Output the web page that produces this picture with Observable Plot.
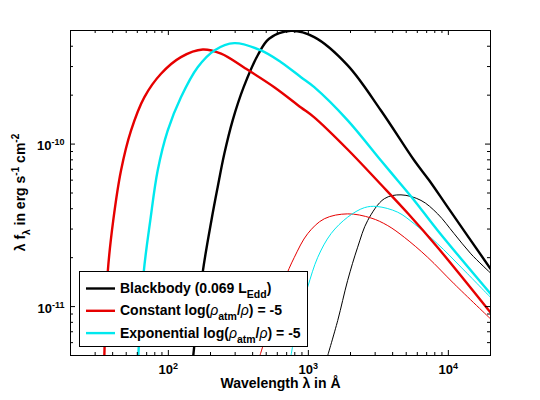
<!DOCTYPE html>
<html>
<head>
<meta charset="utf-8">
<script src="https://cdn.jsdelivr.net/npm/d3@7"></script>
<script src="https://cdn.jsdelivr.net/npm/@observablehq/plot@0.6"></script>
<style>
html, body { margin: 0; padding: 0; background: #fff; }
</style>
</head>
<body>
<div id="chart"></div>
<script>
// ---- Data (wavelength in Å, λ f_λ in erg s^-1 cm^-2) ----
// Thick curves
const bbWave     = [150.7, 176, 203, 225, 251, 288, 345, 435, 524, 750, 1102, 1909, 3300, 5710, 7310, 9890, 20000];
const bbFlux     = [5.0e-12, 1.63e-11, 3.39e-11, 5.43e-11, 8.71e-11, 1.40e-10, 2.24e-10, 3.52e-10, 4.45e-10, 4.97e-10, 4.55e-10, 3.05e-10, 1.61e-10, 7.92e-11, 5.97e-11, 4.09e-11, 1.71e-11];
const constWave  = [34.9, 36.9, 40.4, 45.9, 54.1, 67.3, 88.6, 123, 176, 238, 349, 571, 886, 1102, 1909, 3300, 5150, 8390, 20000];
const constFlux  = [5.0e-12, 1.63e-11, 3.39e-11, 6.88e-11, 1.21e-10, 1.94e-10, 2.71e-10, 3.43e-10, 3.82e-10, 3.60e-10, 2.95e-10, 2.24e-10, 1.68e-10, 1.46e-10, 9.26e-11, 5.64e-11, 3.74e-11, 2.31e-11, 9.2e-12];
const expWave    = [61.0, 66.7, 74.3, 83.9, 98.9, 123, 162, 213, 296, 459, 638, 886, 1102, 1909, 3300, 4345, 5710, 8390, 20000];
const expFlux    = [5.0e-12, 1.63e-11, 3.39e-11, 6.88e-11, 1.21e-10, 1.94e-10, 2.97e-10, 3.77e-10, 4.18e-10, 3.77e-10, 3.19e-10, 2.58e-10, 2.24e-10, 1.40e-10, 7.92e-11, 5.97e-11, 4.50e-11, 2.94e-11, 1.20e-11];
// Thin curves
const bbWave2    = [1375, 1621, 1909, 2250, 2655, 3487, 4590, 6380, 8390, 11000, 14500, 20000];
const bbFlux2    = [5.0e-12, 8.21e-12, 1.45e-11, 2.32e-11, 3.39e-11, 4.61e-11, 4.87e-11, 4.50e-11, 3.72e-11, 2.81e-11, 2.11e-11, 1.61e-11];
const constWave2 = [451, 541, 673, 794, 989, 1300, 1909, 2800, 3690, 4845, 7120, 11000, 20000];
const constFlux2 = [5.0e-12, 8.21e-12, 1.45e-11, 2.01e-11, 2.81e-11, 3.47e-11, 3.72e-11, 3.51e-11, 3.15e-11, 2.67e-11, 2.01e-11, 1.38e-11, 8.41e-12];
const expWave2   = [752, 839, 989, 1167, 1452, 1909, 2510, 3093, 4345, 5710, 8390, 12300, 20000];
const expFlux2   = [5.0e-12, 8.21e-12, 1.32e-11, 2.01e-11, 2.81e-11, 3.55e-11, 4.06e-11, 4.13e-11, 3.81e-11, 3.23e-11, 2.43e-11, 1.75e-11, 1.14e-11];

// Axes
const xMajor = [100, 1000, 10000];
const xTickLabels = ["10^2", "10^3", "10^4"];
const xMinor = [30, 40, 50, 60, 70, 80, 90, 200, 300, 400, 500, 600, 700, 800, 900,
                2000, 3000, 4000, 5000, 6000, 7000, 8000, 9000];
const yMajor = [1e-11, 1e-10];
const yTickLabels = ["10^-11", "10^-10"];
const yMinor = [6e-12, 7e-12, 8e-12, 9e-12, 2e-11, 3e-11, 4e-11, 5e-11, 6e-11, 7e-11, 8e-11, 9e-11, 2e-10, 3e-10, 4e-10];
const xDomain = [20, 20000];
const yDomain = [5e-12, 5e-10];

const xTitle = "Wavelength λ in Å";
const legendNames = [
  [["Blackbody (0.069 L", "n"], ["Edd", "sub"], [")", "n"]],
  [["Constant log(", "n"], ["ρ", "rho"], ["atm", "sub"], ["/", "n"], ["ρ", "rho"], [") = -5", "n"]],
  [["Exponential log(", "n"], ["ρ", "rho"], ["atm", "sub"], ["/", "n"], ["ρ", "rho"], [") = -5", "n"]]
];
const yTitleParts = [["λ f", "n"], ["λ", "sub"], [" in erg s", "n"], ["-1", "sup"], [" cm", "n"], ["-2", "sup"]];

const toRows = (w, f) => w.map((x, i) => ({w: x, f: f[i]}));

const colBlack = "#000000", colRed = "#e60000", colCyan = "#00e8ee";
const W = 540, H = 400, mL = 70, mR = 50, mT = 30, mB = 45;
const pw = W - mL - mR, ph = H - mT - mB;
const fontFam = "'Liberation Sans', Arial, Helvetica, sans-serif";

const lineOpts = (stroke, sw) => ({x: "w", y: "f", stroke, strokeWidth: sw, curve: "catmull-rom", clip: true});

const plot = Plot.plot({
  width: W, height: H,
  marginLeft: mL, marginRight: mR, marginTop: mT, marginBottom: mB,
  style: {fontFamily: fontFam, background: "white", color: "black"},
  x: {type: "log", domain: xDomain, label: null, axis: null},
  y: {type: "log", domain: yDomain, label: null, axis: null},
  marks: [
    Plot.line(toRows(bbWave2, bbFlux2), lineOpts(colBlack, 1)),
    Plot.line(toRows(constWave2, constFlux2), lineOpts(colRed, 1)),
    Plot.line(toRows(expWave2, expFlux2), lineOpts(colCyan, 1)),
    Plot.line(toRows(bbWave, bbFlux), lineOpts(colBlack, 2.4)),
    Plot.line(toRows(constWave, constFlux), lineOpts(colRed, 2.4)),
    Plot.line(toRows(expWave, expFlux), lineOpts(colCyan, 2.4)),
    // inward ticks on all four sides
    Plot.tickX(xMajor, {x: d => d, insetTop: ph - 5}),
    Plot.tickX(xMinor, {x: d => d, insetTop: ph - 3}),
    Plot.tickX(xMajor, {x: d => d, insetBottom: ph - 5}),
    Plot.tickX(xMinor, {x: d => d, insetBottom: ph - 3}),
    Plot.tickY(yMajor, {y: d => d, insetRight: pw - 5}),
    Plot.tickY(yMinor, {y: d => d, insetRight: pw - 3}),
    Plot.tickY(yMajor, {y: d => d, insetLeft: pw - 5}),
    Plot.tickY(yMinor, {y: d => d, insetLeft: pw - 3}),
    Plot.frame({stroke: "black", strokeWidth: 1}),
    // tick labels
    Plot.text(xMajor, {x: d => d, text: (d, i) => xTickLabels[i], frameAnchor: "bottom", dy: 18,
      fontSize: 13, fontWeight: "bold"}),
    Plot.text(yMajor, {y: d => d, text: (d, i) => yTickLabels[i], frameAnchor: "left", textAnchor: "end",
      dx: -6, dy: 2, fontSize: 13, fontWeight: "bold"}),
    Plot.text([xTitle], {text: d => d, frameAnchor: "bottom", dy: 32.5, fontSize: 14, fontWeight: "bold"})
  ]
});
document.getElementById("chart").appendChild(plot);

// ---- superscript / subscript helpers ----
function fillParts(textEl, parts, baseSize, smallSize) {
  const t = d3.select(textEl);
  t.text(null);
  let shift = 0;
  for (const [s, mode] of parts) {
    const ts = t.append("tspan").text(s);
    let target = 0;
    if (mode === "sup") { ts.attr("font-size", smallSize); target = -Math.round(baseSize * 0.42); }
    else if (mode === "sub") { ts.attr("font-size", smallSize); target = Math.round(baseSize * 0.35); }
    else if (mode === "rho") { ts.attr("font-style", "italic").attr("font-weight", "normal"); }
    const dy = target - shift;
    if (dy !== 0) ts.attr("dy", dy);
    shift = target;
  }
}
function splitPow(s) {
  const [b, e] = s.split("^");
  return [[b, "n"], [e, "sup"]];
}
const svg = d3.select(plot);
svg.selectAll("text").filter(function() { return this.textContent.includes("^"); })
  .each(function() { fillParts(this, splitPow(this.textContent), 13, 9); });

// y-axis title
const yt = svg.append("text")
  .attr("transform", `translate(25,${mT + ph / 2}) rotate(-90)`)
  .attr("text-anchor", "middle")
  .attr("font-size", 14).attr("font-weight", "bold").attr("font-family", fontFam).attr("fill", "black");
fillParts(yt.node(), yTitleParts, 14, 10);

// legend
const lg = svg.append("g").attr("font-family", fontFam).attr("font-size", 14).attr("font-weight", "bold")
  .attr("text-anchor", "start");
lg.append("rect").attr("x", 79.5).attr("y", 271.5).attr("width", 228).attr("height", 75)
  .attr("fill", "white").attr("stroke", "black").attr("stroke-width", 1);
const legendColors = [colBlack, colRed, colCyan];
legendNames.forEach((parts, i) => {
  const yy = 288.5 + i * 22.3;
  lg.append("line").attr("x1", 86).attr("x2", 115).attr("y1", yy).attr("y2", yy)
    .attr("stroke", legendColors[i]).attr("stroke-width", 2.4);
  const tx = lg.append("text").attr("x", 120).attr("y", yy + 4.5).attr("fill", "black").attr("text-anchor", "start");
  fillParts(tx.node(), parts, 14, 10.5);
});
</script>
</body>
</html>
